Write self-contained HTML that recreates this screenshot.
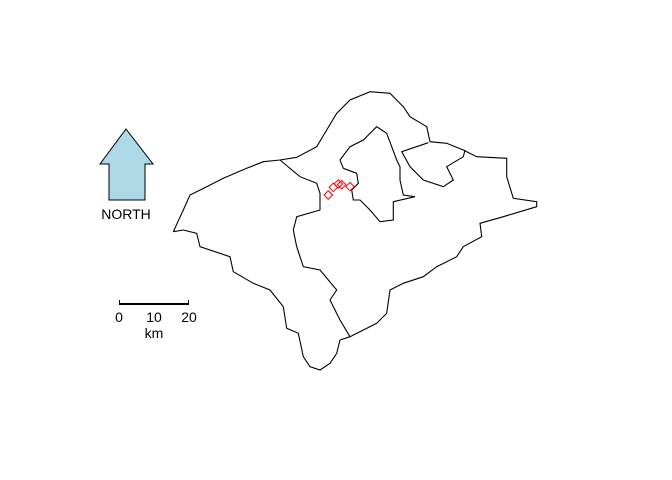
<!DOCTYPE html>
<html><head><meta charset="utf-8"><style>
html,body{margin:0;padding:0;background:#fff}
svg{display:block}
text{font-family:"Liberation Sans",Arial,sans-serif;fill:#000}
</style></head><body>
<svg id="map" width="672" height="480" viewBox="0 0 672 480">
<rect width="672" height="480" fill="#fff"/>
<g id="regions"></g>
<g id="pts"></g>
<polygon points="126,129 153,164 145,164 145,200 109,200 109,164 100,164" fill="#ADD8E6" stroke="#000" stroke-width="1"/>
<text x="126" y="219" font-size="14" text-anchor="middle">NORTH</text>
<g stroke="#000">
<line x1="119" y1="304" x2="189" y2="304" stroke-width="2"/>
<line x1="119.5" y1="300" x2="119.5" y2="304" stroke-width="1"/>
<line x1="188.5" y1="300" x2="188.5" y2="304" stroke-width="1"/>
</g>
<text x="119" y="322" font-size="14" text-anchor="middle">0</text>
<text x="154" y="322" font-size="14" text-anchor="middle">10</text>
<text x="189" y="322" font-size="14" text-anchor="middle">20</text>
<text x="154" y="338" font-size="14" text-anchor="middle">km</text>
</svg>
<script>
const outerBoundary=[[10,455],[40,390],[60,345],[110,320],[160,295],[230,265],[280,245],[330,240],[380,232],[440,200],[470,150],[500,100],[540,60],[600,35],[660,40],[700,80],[720,110],[770,140],[780,185],[830,190],[880,210],[920,230],[1010,235],[1010,290],[1030,355],[1100,365],[1100,380],[1050,395],[1000,410],[930,430],[935,470],[880,500],[860,530],[800,560],[760,590],[700,610],[660,630],[650,700],[620,730],[540,770],[510,780],[500,820],[480,850],[450,870],[420,860],[400,830],[385,760],[350,745],[340,680],[300,630],[250,610],[190,575],[180,530],[90,500],[80,460],[40,450],[10,455]];
const westDivide=[[330,240],[390,290],[440,310],[450,340],[450,390],[380,410],[370,450],[380,500],[400,560],[450,570],[500,630],[480,660],[510,720],[540,770]];
const cityBoundary=[[520,265],[510,240],[540,200],[580,180],[620,140],[650,160],[680,240],[690,260],[690,300],[700,345],[735,350],[670,365],[670,420],[630,425],[600,390],[570,360],[550,360],[545,330],[565,310],[560,280],[520,265]];
const portBoundary=[[775,188],[695,215],[720,260],[760,300],[820,320],[850,300],[830,260],[880,230],[885,210]];
const sitePoints=[[475,345],[490,322],[505,312],[515,314],[540,320]];
const sx=v=>170+v/3, sy=v=>80+v/3;
const NS="http://www.w3.org/2000/svg";
const g=document.getElementById('regions');
function addPath(arr,name){
  const p=document.createElementNS(NS,'path');
  p.setAttribute('d',arr.map((q,i)=>(i?'L':'M')+sx(q[0]).toFixed(1)+','+sy(q[1]).toFixed(1)).join(''));
  p.setAttribute('fill','none');p.setAttribute('stroke','#000');p.setAttribute('stroke-width','1.1');
  
  
  g.appendChild(p);
}
addPath(outerBoundary,'outer-boundary');
addPath(westDivide,'west-boundary');
addPath(cityBoundary,'city-boundary');
addPath(portBoundary,'port-boundary');
const pg=document.getElementById('pts');
sitePoints.forEach(q=>{
  const r=document.createElementNS(NS,'rect');
  const x=sx(q[0]),y=sy(q[1]);
  r.setAttribute('x',x-3);r.setAttribute('y',y-3);r.setAttribute('width',6);r.setAttribute('height',6);
  r.setAttribute('transform','rotate(45 '+x+' '+y+')');
  r.setAttribute('fill','none');r.setAttribute('stroke','#f00');r.setAttribute('stroke-width','1');
  
  
  pg.appendChild(r);
});
</script>
</body></html>
